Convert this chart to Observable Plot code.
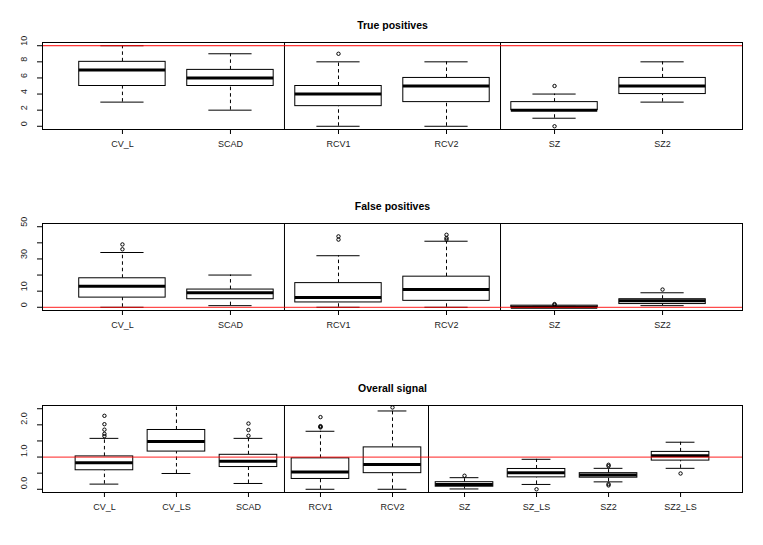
<!DOCTYPE html>
<html>
<head>
<meta charset="utf-8">
<script src="https://cdn.jsdelivr.net/npm/d3@7"></script>
<script src="https://cdn.jsdelivr.net/npm/@observablehq/plot@0.6"></script>
<style>
  html, body { margin: 0; padding: 0; background: #fff; }
  #chart { width: 763px; height: 545px; overflow: hidden; }
  #chart svg { display: block; }
</style>
</head>
<body>
<div id="chart"></div>
<script>
// ---------- True positives ----------
const tpNames = ["CV_L", "SCAD", "RCV1", "RCV2", "SZ", "SZ2"];
const tpLow   = [3, 2, 0, 0, 1, 3];
const tpQ1    = [5, 5, 2.5, 3, 2, 4];
const tpMed   = [7, 6, 4, 5, 2, 5];
const tpQ3    = [8, 7, 5, 6, 3, 6];
const tpHigh  = [10, 9, 8, 8, 4, 8];
const tpOutCat = ["RCV1", "SZ", "SZ"];
const tpOutVal = [9, 5, 0];
const tpTicks = [0, 2, 4, 6, 8, 10];
const tpTickLabels = [0, 2, 4, 6, 8, 10];
const tpRef = [10];
const tpSeparators = [2.5, 4.5];

// ---------- False positives ----------
const fpNames = ["CV_L", "SCAD", "RCV1", "RCV2", "SZ", "SZ2"];
const fpLow   = [0, 1, 0, 0, 0, 1];
const fpQ1    = [6, 5, 3, 4, 0, 2];
const fpMed   = [13, 9, 6, 11, 0, 4];
const fpQ3    = [18, 11, 15, 19, 1, 5];
const fpHigh  = [34, 20, 32, 41, 1, 9];
const fpOutCat = ["CV_L", "CV_L", "RCV1", "RCV1", "RCV2", "RCV2", "RCV2", "SZ", "SZ", "SZ2"];
const fpOutVal = [36, 39, 42, 44, 42, 43, 45, 1.5, 2, 11];
const fpTicks = [0, 10, 20, 30, 40, 50];
const fpTickLabels = [0, 10, 30, 50];
const fpRef = [0];
const fpSeparators = [2.5, 4.5];

// ---------- Overall signal ----------
const osNames = ["CV_L", "CV_LS", "SCAD", "RCV1", "RCV2", "SZ", "SZ_LS", "SZ2", "SZ2_LS"];
const osLow   = [0.16, 0.49, 0.18, 0.00, 0.00, 0.01, 0.15, 0.23, 0.65];
const osQ1    = [0.59, 1.17, 0.69, 0.32, 0.50, 0.08, 0.37, 0.36, 0.89];
const osMed   = [0.82, 1.48, 0.87, 0.54, 0.77, 0.145, 0.51, 0.44, 1.04];
const osQ3    = [1.02, 1.84, 1.07, 0.96, 1.30, 0.22, 0.63, 0.50, 1.16];
const osHigh  = [1.58, 2.85, 1.58, 1.80, 2.43, 0.36, 0.93, 0.65, 1.46];
const osOutCat = ["CV_L", "CV_L", "CV_L", "CV_L", "CV_L",
                  "SCAD", "SCAD", "SCAD",
                  "RCV1", "RCV1", "RCV1", "RCV1",
                  "RCV2", "SZ", "SZ_LS",
                  "SZ2", "SZ2", "SZ2", "SZ2", "SZ2_LS"];
const osOutVal = [1.65, 1.72, 1.85, 2.02, 2.28,
                  1.66, 1.84, 2.04,
                  1.92, 1.94, 1.96, 2.24,
                  2.54, 0.42, 0.00,
                  0.72, 0.76, 0.12, 0.16, 0.49];
const osTicks = [0, 0.5, 1, 1.5, 2, 2.5];
const osTickLabels = [0, 1, 2];
const osRef = [1];
const osSeparators = [3.5, 5.5];

function panel(cfg) {
  const n = cfg.names.length;
  const pos = d3.range(1, n + 1);
  const stats = cfg.names.map((name, i) => ({
    name, i: i + 1,
    low: cfg.low[i], q1: cfg.q1[i], med: cfg.med[i], q3: cfg.q3[i], high: cfg.high[i]
  }));
  const idx = new Map(cfg.names.map((d, i) => [d, i + 1]));
  const outs = cfg.outCat.map((c, k) => ({ i: idx.get(c), v: cfg.outVal[k] }));
  const pad = (n * 0.04);
  const xDomain = [0.5 - pad, n + 0.5 + pad];
  const dash = "3.5,3";
  return Plot.plot({
    width: 763,
    height: cfg.height,
    marginLeft: 42,
    marginRight: 21,
    marginTop: 42,
    marginBottom: cfg.height - 129,
    style: { fontFamily: "'Liberation Sans', Arial, sans-serif", fontSize: "9px", background: "#fff", color: "#000" },
    x: { type: "linear", domain: xDomain, label: null },
    y: { domain: cfg.yDomain, label: null },
    marks: [
      // whiskers (dashed)
      Plot.ruleX(stats, { x: "i", y1: "q3", y2: "high", stroke: "#000", strokeDasharray: dash, clip: "frame" }),
      Plot.ruleX(stats, { x: "i", y1: "low", y2: "q1", stroke: "#000", strokeDasharray: dash, clip: "frame" }),
      // caps
      Plot.ruleY(stats, { y: "high", x1: d => d.i - 0.2, x2: d => d.i + 0.2, stroke: "#000", clip: "frame" }),
      Plot.ruleY(stats, { y: "low", x1: d => d.i - 0.2, x2: d => d.i + 0.2, stroke: "#000", clip: "frame" }),
      // boxes
      Plot.rect(stats, { x1: d => d.i - 0.4, x2: d => d.i + 0.4, y1: "q1", y2: "q3", fill: "#fff", stroke: "#000", strokeWidth: 1 }),
      // medians
      Plot.ruleY(stats, { y: "med", x1: d => d.i - 0.4, x2: d => d.i + 0.4, stroke: "#000", strokeWidth: 3 }),
      // outliers
      Plot.dot(outs, { x: "i", y: "v", r: 1.7, stroke: "#000", strokeWidth: 1, fill: "none" }),
      // group separators
      Plot.ruleX(cfg.separators, { stroke: "#000", strokeWidth: 1 }),
      // reference line
      Plot.ruleY(cfg.ref, { stroke: "#ff0000", strokeWidth: cfg.refWidth, strokeOpacity: cfg.refOpacity }),
      Plot.frame({ stroke: "#000", strokeWidth: 1 }),
      // axes
      Plot.axisX(pos, { tickSize: 5, tickPadding: 6, tickFormat: i => cfg.names[i - 1], fontSize: 9, fill: "#222", label: null }),
      Plot.axisY(cfg.ticks, { tickSize: 5, tickFormat: () => "", label: null }),
      Plot.text(cfg.tickLabels, { frameAnchor: "left", y: d => d, text: cfg.fmt, rotate: -90, dx: -18, fontSize: 9, fill: "#222" }),
      // title
      Plot.text([cfg.title], { frameAnchor: "top", dy: -21, fontWeight: "bold", fontSize: 10.5, fill: "#000" })
    ]
  });
}

const root = document.getElementById("chart");
root.append(panel({
  title: "True positives", height: 181,
  names: tpNames, low: tpLow, q1: tpQ1, med: tpMed, q3: tpQ3, high: tpHigh,
  outCat: tpOutCat, outVal: tpOutVal,
  yDomain: [-0.4, 10.4], ticks: tpTicks, tickLabels: tpTickLabels, fmt: d => String(d),
  ref: tpRef, refWidth: 1, refOpacity: 1, separators: tpSeparators
}));
root.append(panel({
  title: "False positives", height: 182,
  names: fpNames, low: fpLow, q1: fpQ1, med: fpMed, q3: fpQ3, high: fpHigh,
  outCat: fpOutCat, outVal: fpOutVal,
  yDomain: [-2, 52], ticks: fpTicks, tickLabels: fpTickLabels, fmt: d => String(d),
  ref: fpRef, refWidth: 1.3, refOpacity: 0.7, separators: fpSeparators
}));
root.append(panel({
  title: "Overall signal", height: 182,
  names: osNames, low: osLow, q1: osQ1, med: osMed, q3: osQ3, high: osHigh,
  outCat: osOutCat, outVal: osOutVal,
  yDomain: [-0.1, 2.6], ticks: osTicks, tickLabels: osTickLabels, fmt: d => d3.format(".1f")(d),
  ref: osRef, refWidth: 1.3, refOpacity: 0.7, separators: osSeparators
}));
</script>
</body>
</html>
